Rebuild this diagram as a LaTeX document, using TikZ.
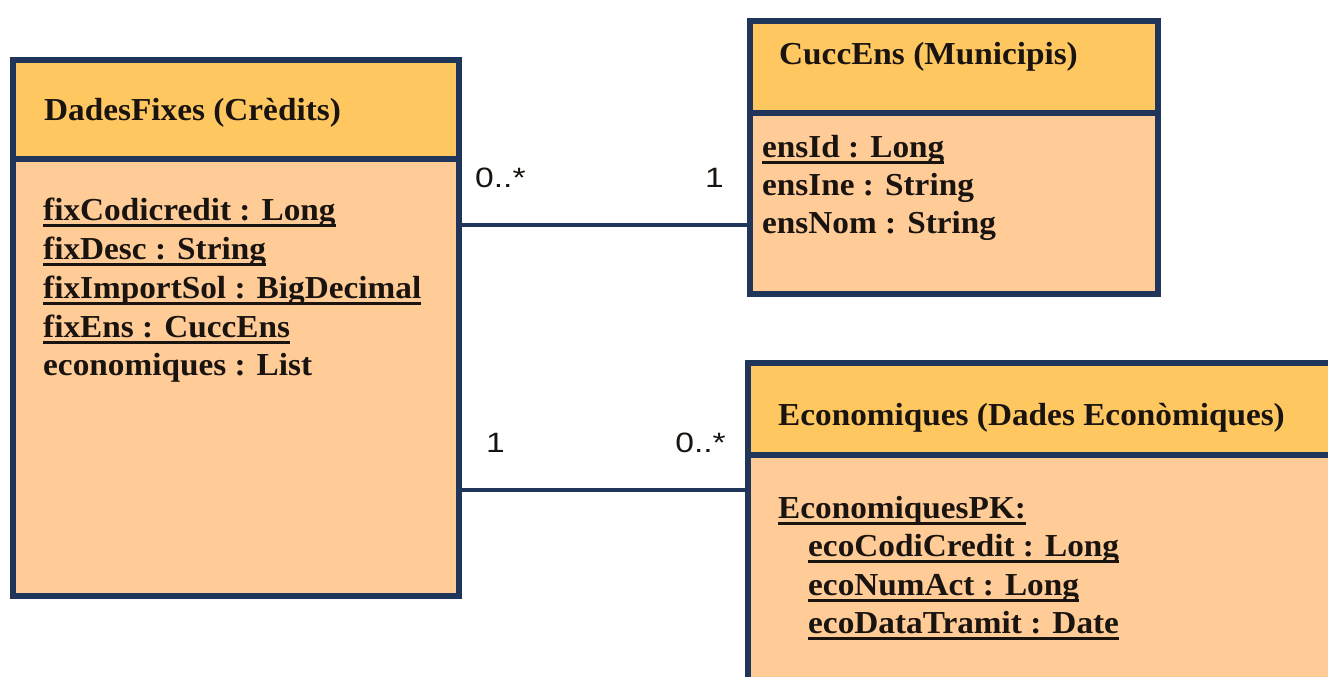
\documentclass[tikz,border=0pt]{standalone}
\usepackage{fontspec}
\setmainfont{Liberation Serif}
\newfontfamily\titlefont{Liberation Serif Bold}[FakeStretch=1.04]
\newfontfamily\multfont{Liberation Sans}[FakeStretch=1.2]
\definecolor{hdrfill}{HTML}{FFC760}
\definecolor{bodyfill}{HTML}{FFCB96}
\definecolor{navy}{HTML}{1F3559}
\definecolor{ink}{HTML}{1A1410}
\newcommand{\myul}[1]{\setbox0\hbox{#1}\rlap{\rule[-6.5pt]{\wd0}{3pt}}\box0}
\tikzset{
  hdr/.style={draw=navy, line width=6pt, fill=hdrfill, anchor=north west, inner sep=0pt},
  bdy/.style={draw=navy, line width=6pt, fill=bodyfill, anchor=north west, inner sep=0pt},
  ttl/.style={anchor=base west, inner sep=0pt, text=ink, font=\titlefont\fontsize{32}{38}\selectfont},
  attr/.style={anchor=base west, inner sep=0pt, text=ink, font=\titlefont\fontsize{32}{38}\selectfont},
  mult/.style={inner sep=0pt, text=ink, font=\multfont\fontsize{28}{32}\selectfont},
  conn/.style={draw=navy, line width=4pt}
}
\begin{document}
\begin{tikzpicture}[x=1pt,y=-1pt]
\useasboundingbox (0,0) rectangle (1328,677);
% DadesFixes
\node[bdy, minimum width=446pt, minimum height=437pt] (dfb) at (10,156) {};
\node[hdr, minimum width=446pt, minimum height=99pt] (dfh) at (10,57) {};
\node[ttl] (dft) at (44,121) {DadesFixes (Crèdits)};
\node[attr] (df1) at (43,220) {\myul{fixCodicredit : Long}};
\node[attr] (df2) at (43,259) {\myul{fixDesc : String}};
\node[attr] (df3) at (43,298) {\myul{fixImportSol : BigDecimal}};
\node[attr] (df4) at (43,337) {\myul{fixEns : CuccEns}};
\node[attr] (df5) at (43,375) {economiques : List};
% CuccEns
\node[bdy, minimum width=408.5pt, minimum height=181pt] (ceb) at (746.5,110) {};
\node[hdr, minimum width=408.5pt, minimum height=92pt] (ceh) at (746.5,18) {};
\node[ttl] (cet) at (779,64) {CuccEns (Municipis)};
\node[attr] (ce1) at (762,157) {\myul{ensId : Long}};
\node[attr] (ce2) at (762,195) {ensIne : String};
\node[attr] (ce3) at (762,233) {ensNom : String};
% Economiques
\node[bdy, minimum width=620pt, minimum height=260pt] (ecb) at (745,452) {};
\node[hdr, minimum width=620pt, minimum height=92pt] (ech) at (745,360) {};
\node[ttl] (ect) at (778,425) {Economiques (Dades Econòmiques)};
\node[attr] (ec0) at (778,518) {\myul{EconomiquesPK:}};
\node[attr] (ec1) at (808,556) {\myul{ecoCodiCredit : Long}};
\node[attr] (ec2) at (808,595) {\myul{ecoNumAct : Long}};
\node[attr] (ec3) at (808,633) {\myul{ecoDataTramit : Date}};
% connectors
\coordinate (c1a) at (dfb.east |- 0,225);
\coordinate (c1b) at (ceb.west |- 0,225);
\coordinate (c2a) at (dfb.east |- 0,490);
\coordinate (c2b) at (ecb.west |- 0,490);
\draw[conn] (c1a) -- (c1b);
\draw[conn] (c2a) -- (c2b);
\node[mult, anchor=base west] (m1) at (475,187) {0..*};
\node[mult, anchor=base east] (m2) at (724,187) {1};
\node[mult, anchor=base west] (m3) at (486,452) {1};
\node[mult, anchor=base east] (m4) at (726,452) {0..*};
\end{tikzpicture}
\end{document}
